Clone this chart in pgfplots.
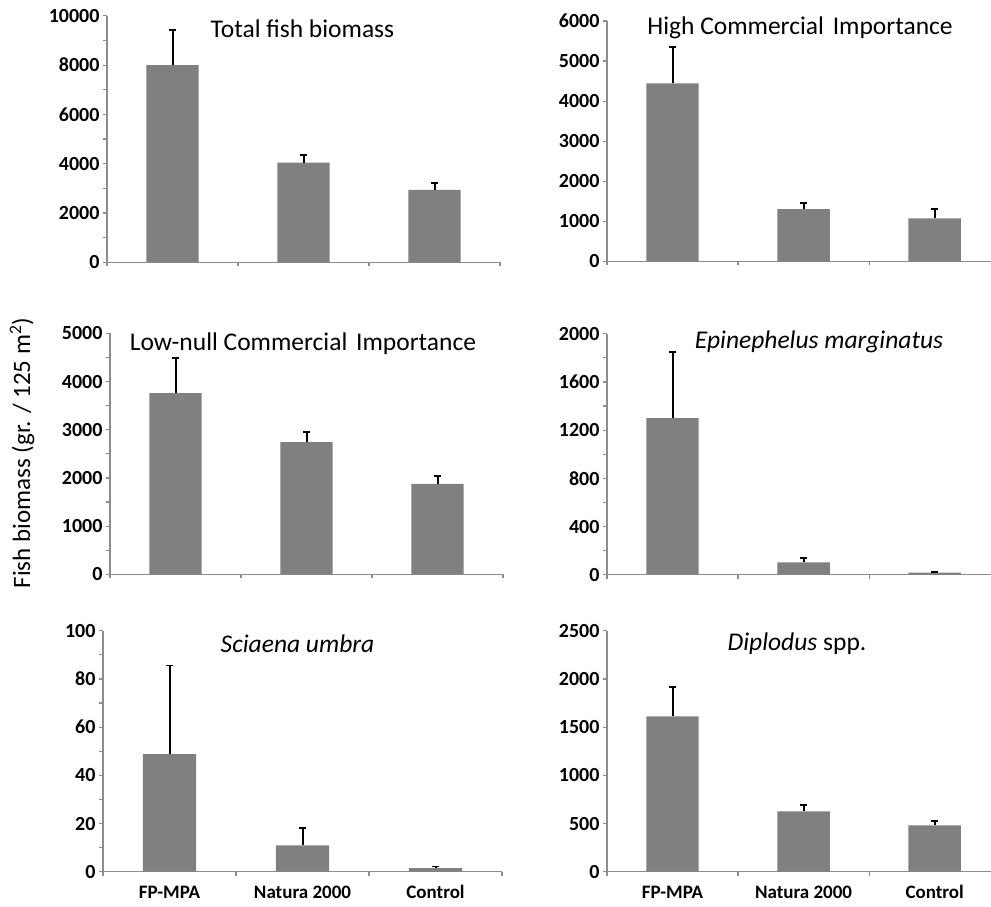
\documentclass[border=0pt]{standalone}
\usepackage{fontspec}
\setmainfont{Carlito}
\usepackage{pgfplots}
\pgfplotsset{compat=1.18}
\definecolor{barg}{HTML}{808080}
\definecolor{axg}{HTML}{8C8C8C}
\pgfplotsset{
  panel/.style={
    scale only axis, anchor=south west,
    xmin=-0.5, ymin=0,
    axis x line=bottom, axis y line=left,
    axis line style={axg, line width=1.3pt, -},
    ybar, bar width=0.4,
    tick align=outside, major tick length=4pt, minor tick length=4pt,
    every tick/.style={axg, line width=1.2pt},
    xtick={-0.5,0.5,1.5,2.5}, xticklabels={},
    yticklabel style={font=\fontsize{20}{24}\selectfont\bfseries},
    /pgf/number format/assume math mode=true,
    /pgf/number format/1000 sep={},
    scaled y ticks=false,
    clip=false,
  },
  bottompanel/.style={
    extra x ticks={0,1,2},
    extra x tick labels={FP-MPA,Natura 2000,Control},
    extra x tick style={major tick length=0pt,
      xticklabel style={font=\fontsize{19}{23}\selectfont\bfseries,
        anchor=base, yshift=-27pt}},
  },
  bars/.style={fill=barg, draw=none,
    error bars/.cd, y dir=plus, y explicit,
    error bar style={draw=black, line width=2pt, solid},
    error mark options={draw=black, rotate=90, line width=1.8pt, mark size=3.5pt, solid}},
}
\newcommand{\ttl}{\fontsize{25.5}{30}\selectfont}
\begin{document}
\begin{tikzpicture}
\path[use as bounding box] (0,0) rectangle (991pt,-906pt);
% Panel 1
\begin{axis}[panel, at={(107pt,-262.3pt)}, width=393pt, height=246.5pt,
  xmax=2.5, ymax=10000, ytick={0,2000,...,10000}, minor y tick num=1]
\addplot[bars] table[x=x,y=y,y error=e] {
x y e
0 8000 1430
1 4040 300
2 2940 270
};
\end{axis}
% Panel 2
\begin{axis}[panel, at={(607pt,-261.3pt)}, width=384pt, height=240.3pt,
  xmax=2.43, ymax=6000, ytick={0,1000,...,6000}, xtick={-0.5,0.5,1.5}]
\addplot[bars] table[x=x,y=y,y error=e] {
x y e
0 4445 900
1 1306 140
2 1075 225
};
\end{axis}
% Panel 3
\begin{axis}[panel, at={(110pt,-574.3pt)}, width=393pt, height=241pt,
  xmax=2.5, ymax=5000, ytick={0,1000,...,5000}, minor y tick num=1]
\addplot[bars] table[x=x,y=y,y error=e] {
x y e
0 3760 725
1 2740 220
2 1875 165
};
\end{axis}
% Panel 4
\begin{axis}[panel, at={(607pt,-574.7pt)}, width=384pt, height=241pt,
  xmax=2.43, ymax=2000, ytick={0,400,...,2000}, minor y tick num=1, xtick={-0.5,0.5,1.5}]
\addplot[bars] table[x=x,y=y,y error=e] {
x y e
0 1300 548
1 103 36
2 17 8
};
\end{axis}
% Panel 5
\begin{axis}[panel, bottompanel, at={(103pt,-871.7pt)}, width=399pt, height=241pt,
  xmax=2.5, ymax=100, ytick={0,20,...,100}, minor y tick num=1]
\addplot[bars] table[x=x,y=y,y error=e] {
x y e
0 48.8 36.8
1 10.9 7.1
2 1.5 0.7
};
\end{axis}
% Panel 6
\begin{axis}[panel, bottompanel, at={(607pt,-871.7pt)}, width=384pt, height=241pt,
  xmax=2.43, ymax=2500, ytick={0,500,...,2500}, xtick={-0.5,0.5,1.5}]
\addplot[bars] table[x=x,y=y,y error=e] {
x y e
0 1612 304
1 626 66
2 481 42
};
\end{axis}
% titles
\node[anchor=base, inner sep=0pt] at (302.5pt,-37.3pt) {\ttl Total fish biomass};
\node[anchor=base, inner sep=0pt] at (800pt,-34.3pt) {\ttl High Commercial\hspace{0.12em} Importance};
\node[anchor=base, inner sep=0pt] at (303pt,-350pt) {\ttl Low-null Commercial\hspace{0.12em} Importance};
\node[anchor=base, inner sep=0pt] at (819pt,-348.3pt) {\ttl\itshape Epinephelus marginatus};
\node[anchor=base, inner sep=0pt] at (297.5pt,-652.7pt) {\ttl\itshape Sciaena umbra};
\node[anchor=base, inner sep=0pt] at (797pt,-650.7pt) {\ttl\textit{Diplodus} spp.};
% y label
\node[rotate=90, inner sep=0pt] at (22pt,-453pt) {\fontsize{25}{30}\selectfont Fish biomass (gr. / 125 m\textsuperscript{2})};
\end{tikzpicture}
\end{document}
